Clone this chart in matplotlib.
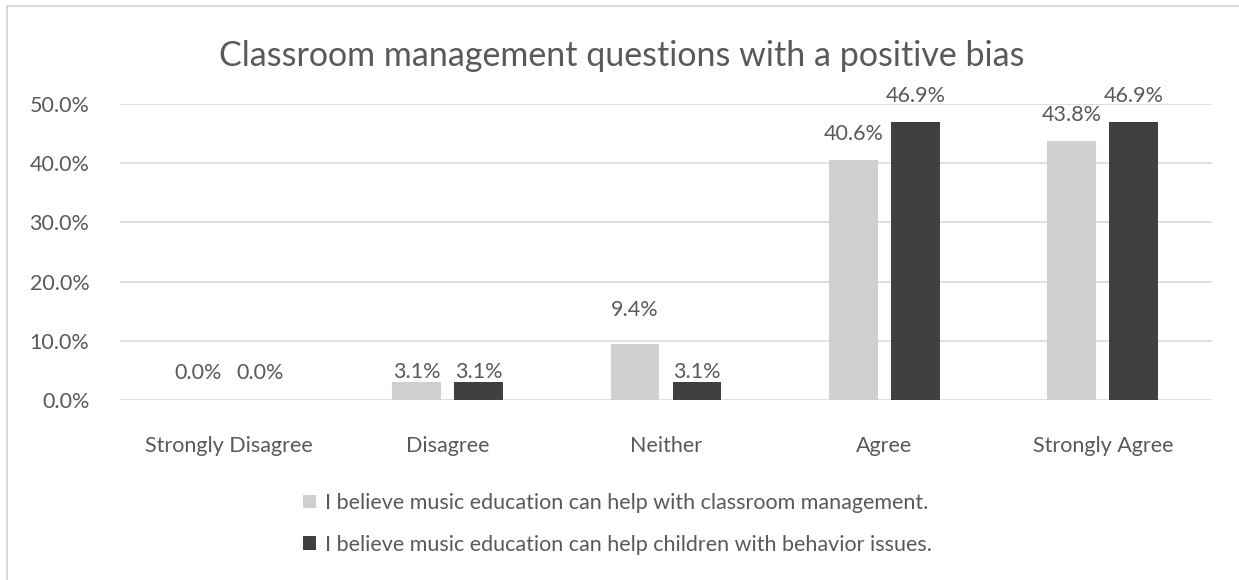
import matplotlib
matplotlib.use('Agg')
import matplotlib.pyplot as plt
from matplotlib.patches import Rectangle, Patch
import numpy as np

## data ##
categories = ['Strongly Disagree', 'Disagree', 'Neither', 'Agree', 'Strongly Agree']
classroom = [0.0, 3.1, 9.4, 40.6, 43.8]
behavior = [0.0, 3.1, 3.1, 46.9, 46.9]
series_names = ['I believe music education can help with classroom management.',
                'I believe music education can help children with behavior issues.']
yticks = [0, 10, 20, 30, 40, 50]

plt.rcParams['font.family'] = ['Lato', 'DejaVu Sans']
txt = '#595959'
light = '#D0CECE'
dark = '#404040'
grid = '#D9D9D9'
fs = 15.5

fig = plt.figure(figsize=(12.39, 5.8), dpi=100)
# outer chart border (cropped on right/bottom)
fig.patches.append(Rectangle((7/1239, -0.1), 1.2, 1 - 6/580 + 0.1, transform=fig.transFigure,
                             fill=False, edgecolor=grid, linewidth=1.5))

ax = fig.add_axes([120/1239, 1 - 400/580, (1212 - 120)/1239, (400 - 104)/580])
x = np.arange(len(categories))
w = 0.224
gap = 0.06
b1 = ax.bar(x - (w + gap)/2, classroom, w, color=light, zorder=3)
b2 = ax.bar(x + (w + gap)/2, behavior, w, color=dark, zorder=3)

ax.set_xlim(-0.5, len(categories) - 0.5)
ax.set_ylim(0, 50)
ax.set_yticks(yticks)
ax.set_yticklabels(['%.1f%%' % v for v in yticks])
ax.set_xticks(x)
ax.set_xticklabels(categories)
ax.tick_params(axis='y', length=0, pad=22, labelsize=fs, labelcolor=txt)
ax.tick_params(axis='x', length=0, pad=26, labelsize=fs, labelcolor=txt)
ax.grid(axis='y', color=grid, linewidth=1.2, zorder=0)
for s in ax.spines.values():
    s.set_visible(False)

# data labels; Excel nudged a few of them
nudge = {(0, 1): 10, (1, 1): 10, (0, 2): 34, (1, 2): 10}
for si, bars in enumerate([b1, b2]):
    for ci, r in enumerate(bars):
        h = r.get_height()
        off = nudge.get((si, ci), 26) if h > 0 else 27
        ax.annotate('%.1f%%' % h, (r.get_x() + r.get_width()/2, h),
                    xytext=(0, off * 0.72), textcoords='offset points',
                    ha='center', va='center', fontsize=fs, color=txt)

fig.text(622/1239, 1 - 56/580, 'Classroom management questions with a positive bias',
         ha='center', va='center', fontsize=24.5, color=txt)

handles = [Patch(facecolor=light), Patch(facecolor=dark)]
fig.legend(handles, series_names, loc='center left', bbox_to_anchor=(284/1239, 1 - 524/580),
           ncol=1, frameon=False, fontsize=fs, labelcolor=txt, handlelength=0.6,
           handleheight=0.6, handletextpad=0.4, labelspacing=1.0)

plt.savefig('out.png', dpi=100)
